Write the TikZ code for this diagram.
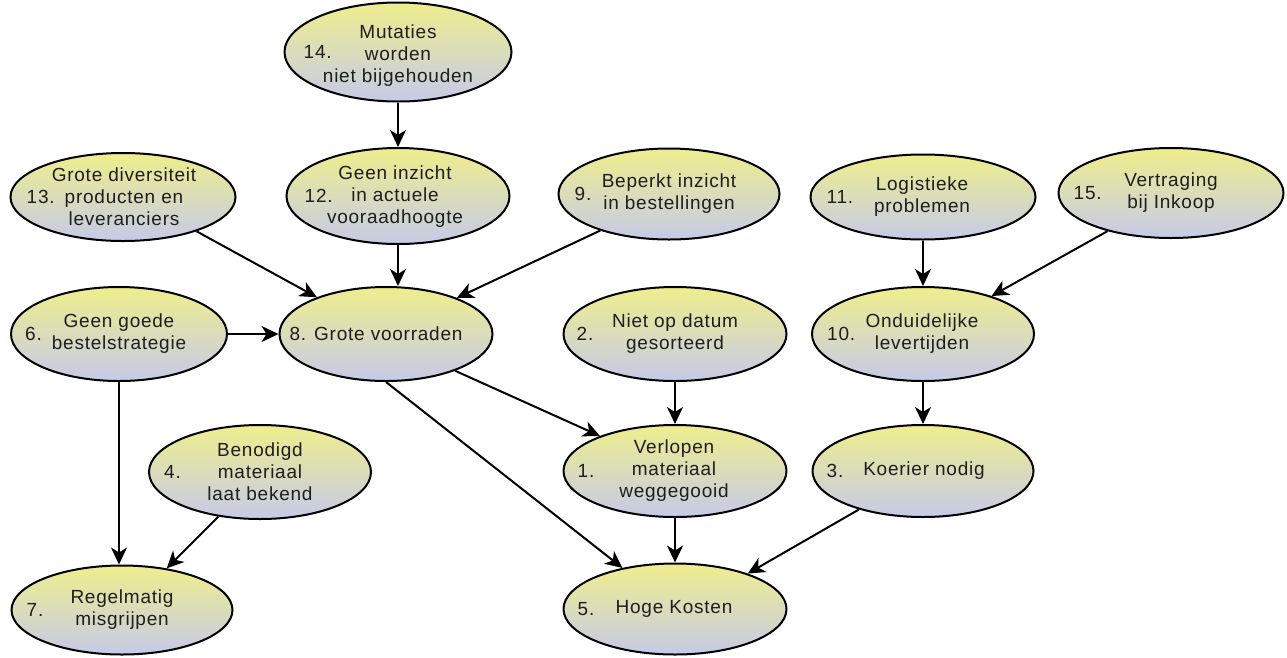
\documentclass[tikz,border=0pt]{standalone}
\usepackage{fontspec}
\setmainfont{Liberation Sans}[LetterSpace=4]
\usetikzlibrary{shapes.geometric,arrows.meta}
\definecolor{topc}{RGB}{238,238,140}
\definecolor{botc}{RGB}{198,202,232}
\definecolor{txt}{RGB}{30,30,30}
\tikzset{
  ell/.style={ellipse, draw=black, line width=2pt, top color=topc, bottom color=botc,
    minimum width=222pt, minimum height=92pt, inner sep=0pt},
  lbl/.style={align=center, font=\fontsize{19}{22}\selectfont, text=txt, inner sep=0pt},
  num/.style={anchor=west, font=\fontsize{19}{22}\selectfont, text=txt, inner sep=0pt},
  arr/.style={line width=2pt, -{Stealth[length=17pt,width=16pt,inset=5pt]}},
}
\begin{document}
\begin{tikzpicture}[x=1pt,y=-1pt]
\useasboundingbox (0,0) rectangle (1287,657);
% ellipses
\node[ell, minimum width=227pt, minimum height=99pt] (n14) at (398,52) {};
\node[ell, minimum width=223pt, minimum height=96pt] (n12) at (398,196) {};
\node[ell, minimum width=225pt, minimum height=88pt] (n13) at (123,197) {};
\node[ell, minimum width=221pt, minimum height=91pt] (n9) at (669,194) {};
\node[ell, minimum width=225pt, minimum height=85pt] (n11) at (923,197) {};
\node[ell, minimum width=225pt, minimum height=90pt] (n15) at (1171,193) {};
\node[ell, minimum width=216pt, minimum height=94pt] (n6) at (119,334) {};
\node[ell, minimum width=213pt, minimum height=94pt] (n8) at (386,334) {};
\node[ell, minimum width=223pt, minimum height=94pt] (n2) at (675,334) {};
\node[ell, minimum width=222pt, minimum height=94pt] (n10) at (923,334) {};
\node[ell, minimum width=222pt, minimum height=94pt] (n4) at (260,472) {};
\node[ell, minimum width=223pt, minimum height=92pt] (n1) at (675,471) {};
\node[ell, minimum width=221pt, minimum height=92pt] (n3) at (923,471) {};
\node[ell, minimum width=223pt, minimum height=91pt] (n5) at (675,609) {};
\node[ell, minimum width=221pt, minimum height=89pt] (n7) at (122,610) {};
% texts
\node[lbl] (t14) at (398,56) {Mutaties\\worden\\niet bijgehouden};
\node[num] (m14) at ([xshift=20pt]n14.west) {14.};
\node[lbl] (t12) at (395,197) {Geen inzicht\\in actuele\\vooraadhoogte};
\node[num] (m12) at ([xshift=19pt]n12.west) {12.};
\node[lbl] (t13) at (124,197) {Grote diversiteit\\producten en\\leveranciers};
\node[num] (m13) at ([xshift=17pt]n13.west) {13.};
\node[lbl] (t9) at (669,194) {Beperkt inzicht\\in bestellingen};
\node[num] (m9) at ([xshift=17pt]n9.west) {9.};
\node[lbl] (t11) at (922,197) {Logistieke\\problemen};
\node[num] (m11) at ([xshift=17pt]n11.west) {11.};
\node[lbl] (t15) at (1171,193) {Vertraging\\bij Inkoop};
\node[num] (m15) at ([xshift=16pt]n15.west) {15.};
\node[lbl] (t6) at (119,334) {Geen goede\\bestelstrategie};
\node[num] (m6) at ([xshift=15pt]n6.west) {6.};
\node[lbl] (t8) at (376,334) {8. Grote voorraden};
\node[lbl] (t2) at (675,334) {Niet op datum\\gesorteerd};
\node[num] (m2) at ([xshift=14pt]n2.west) {2.};
\node[lbl] (t10) at (922,334) {Onduidelijke\\levertijden};
\node[num] (m10) at ([xshift=16pt]n10.west) {10.};
\node[lbl] (t4) at (260,472) {Benodigd\\materiaal\\laat bekend};
\node[num] (m4) at ([xshift=16pt]n4.west) {4.};
\node[lbl] (t1) at (674,471) {Verlopen\\materiaal\\weggegooid};
\node[num] (m1) at ([xshift=15pt]n1.west) {1.};
\node[lbl] (t3) at (924,471) {Koerier nodig};
\node[num] (m3) at ([xshift=15pt]n3.west) {3.};
\node[lbl] (t5) at (674,609) {Hoge Kosten};
\node[num] (m5) at ([xshift=15pt]n5.west) {5.};
\node[lbl] (t7) at (122,610) {Regelmatig\\misgrijpen};
\node[num] (m7) at ([xshift=16pt]n7.west) {7.};
% connectors
\draw[arr] (n14.south) -- (n12.north);
\draw[arr] (n12.south) -- (n12.south |- n8.north);
\draw[arr] (n13.335) -- (n8.152);
\draw[arr] (n9.208) -- (n8.27);
\draw[arr] (n6.east) -- (n8.west);
\draw[arr] (n6.south) -- (n6.south |- n7.north);
\draw[arr] (n4.227) -- (n7.43);
\draw[arr] (n8.332) -- (n1.155);
\draw[arr] (n8.south) -- (n5.142);
\draw[arr] (n2.south) -- (n1.north);
\draw[arr] (n1.south) -- (n5.north);
\draw[arr] (n3.211) -- (n5.26);
\draw[arr] (n11.south) -- (n10.north);
\draw[arr] (n15.211) -- (n10.29);
\draw[arr] (n10.south) -- (n3.north);
\end{tikzpicture}
\end{document}
